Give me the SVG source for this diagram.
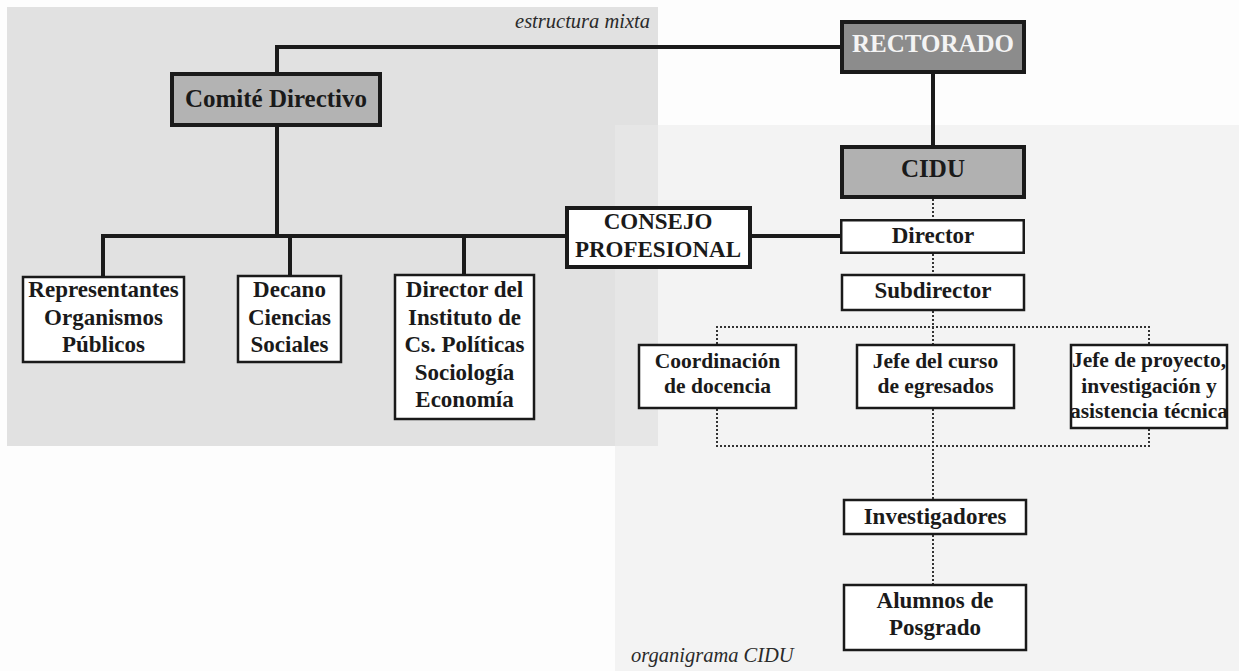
<svg xmlns="http://www.w3.org/2000/svg" width="1239" height="671" viewBox="0 0 1239 671">
<style>
.t{font-family:"Liberation Serif","Times New Roman",serif;font-weight:bold;fill:#1a1a1a;text-anchor:middle}
.l{font-size:23px}
.r{font-size:23px}
.s{font-size:21.5px}
.cap{font-family:"Liberation Serif","Times New Roman",serif;font-style:italic;font-size:20.5px;fill:#2a2a2a}
.thick{stroke:#1a1a1a;stroke-width:4}
.thin{fill:#ffffff;stroke:#1a1a1a;stroke-width:2.5}
.solid{fill:none;stroke:#1a1a1a;stroke-width:4}
.dot{fill:none;stroke:#333;stroke-width:2;stroke-dasharray:2 2}
</style>
<rect x="0" y="0" width="1239" height="671" fill="#fdfdfd"/>
<rect x="615" y="125" width="624" height="546" fill="#f3f3f3"/>
<rect x="7" y="7" width="651" height="439" fill="#e1e1e1"/>
<rect x="615" y="125" width="43" height="321" fill="#e6e6e6"/>
<text class="cap" x="650" y="28" text-anchor="end">estructura mixta</text>
<text class="cap" x="631" y="662">organigrama CIDU</text>
<g id="connectors">
<path class="solid" d="M840 47H277V72"/>
<path class="solid" d="M933 74V145"/>
<path class="solid" d="M277 127V236"/>
<path class="solid" d="M103 276V236H565"/>
<path class="solid" d="M290 236V275"/>
<path class="solid" d="M464 236V274"/>
<path class="solid" d="M752 236H840"/>
<path class="dot" d="M933 199V219"/>
<path class="dot" d="M933 254V274"/>
<path class="dot" d="M933 311V344"/>
<path class="dot" d="M717 344V327H1149V344"/>
<path class="dot" d="M717 409V446H1149V429"/>
<path class="dot" d="M933 409V499"/>
<path class="dot" d="M933 535V584"/>
</g>
<g id="rectorado"><rect class="thick" x="842" y="22" width="182" height="50" fill="#8c8c8c"/><text class="t" x="933" y="52" font-size="25" style="fill:#f4f4f4">RECTORADO</text></g>
<g id="comite"><rect class="thick" x="172" y="74" width="208" height="51" fill="#b3b3b3"/><text class="t" x="276" y="107" font-size="25">Comité Directivo</text></g>
<g id="cidu"><rect class="thick" x="842" y="147" width="182" height="50" fill="#b1b1b1"/><text class="t" x="933" y="177" font-size="25">CIDU</text></g>
<g id="consejo"><rect class="thick" x="567" y="208" width="183" height="59" fill="#ffffff"/><text class="t l" x="658" y="229">CONSEJO</text><text class="t l" x="658" y="257">PROFESIONAL</text></g>
<g id="director"><rect class="thin" x="841.25" y="220.25" width="182.5" height="32.5"/><text class="t r" x="933" y="243">Director</text></g>
<g id="subdirector"><rect class="thin" x="842" y="275" width="182" height="35"/><text class="t r" x="933" y="298">Subdirector</text></g>
<g id="representantes"><rect class="thin" x="23" y="277" width="161" height="85"/><text class="t l" x="103.5" y="297">Representantes</text><text class="t l" x="103.5" y="325">Organismos</text><text class="t l" x="103.5" y="352">Públicos</text></g>
<g id="decano"><rect class="thin" x="238" y="276" width="103" height="86"/><text class="t l" x="289.5" y="297">Decano</text><text class="t l" x="289.5" y="325">Ciencias</text><text class="t l" x="289.5" y="352">Sociales</text></g>
<g id="director-instituto"><rect class="thin" x="395" y="275" width="139" height="144"/><text class="t l" x="464.5" y="297">Director del</text><text class="t l" x="464.5" y="325">Instituto de</text><text class="t l" x="464.5" y="352">Cs. Políticas</text><text class="t l" x="464.5" y="380">Sociología</text><text class="t l" x="464.5" y="407">Economía</text></g>
<g id="coordinacion"><rect class="thin" x="639" y="345" width="157" height="63"/><text class="t s" x="717.5" y="368">Coordinación</text><text class="t s" x="717.5" y="393">de docencia</text></g>
<g id="jefe-curso"><rect class="thin" x="857" y="345" width="157" height="63"/><text class="t s" x="935.5" y="368">Jefe del curso</text><text class="t s" x="935.5" y="393">de egresados</text></g>
<g id="jefe-proyecto"><rect class="thin" x="1071" y="345" width="156" height="83"/><text class="t s" x="1149" y="367">Jefe de proyecto,</text><text class="t s" x="1149" y="393">investigación y</text><text class="t s" x="1149" y="418">asistencia técnica</text></g>
<g id="investigadores"><rect class="thin" x="844" y="500" width="182" height="34"/><text class="t r" x="935" y="524">Investigadores</text></g>
<g id="alumnos"><rect class="thin" x="844" y="585" width="182" height="65"/><text class="t r" x="935" y="608">Alumnos de</text><text class="t r" x="935" y="635">Posgrado</text></g>
</svg>
